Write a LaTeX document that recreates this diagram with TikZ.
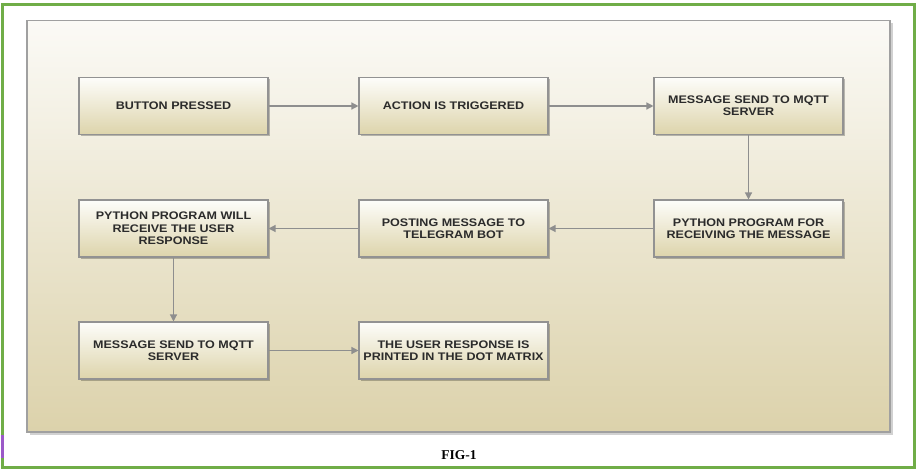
\documentclass[tikz,border=0pt]{standalone}
\usepackage{fontspec}
\newfontfamily\boxfont{Liberation Sans}[FakeStretch=1.14]
\newfontfamily\capfont{Liberation Serif}
\usetikzlibrary{arrows.meta,shadows}
\definecolor{framegreen}{HTML}{70AD47}
\definecolor{markpurple}{HTML}{9B59C8}
\definecolor{panelborder}{HTML}{A0A0A0}
\definecolor{boxborder}{HTML}{929292}
\definecolor{paneltop}{HTML}{FBFAF6}
\definecolor{panelbottom}{HTML}{DCD2AB}
\definecolor{boxtop}{HTML}{FDFDFA}
\definecolor{boxbottom}{HTML}{DDD4AB}
\definecolor{arrowgray}{HTML}{8E8E8E}
\definecolor{textgray}{HTML}{2B2B2B}
\tikzset{
  flowbox/.style={draw=boxborder, line width=1.1pt, top color=boxtop, bottom color=boxbottom,
    minimum width=189pt, minimum height=57pt, inner sep=0pt, align=center,
    text=textgray, font=\boxfont\bfseries\fontsize{11}{12.3}\selectfont,
    drop shadow={shadow xshift=1.5pt, shadow yshift=-1.5pt, opacity=0.25, fill=black}},
  flowarrow/.style={draw=arrowgray, line width=1.3pt, -{Triangle[length=7pt,width=7pt]}},
}
\begin{document}
\begin{tikzpicture}[x=1pt,y=-1pt]
\useasboundingbox (0,0) rectangle (916,472);
\fill[white] (0,0) rectangle (916,472);
% outer green frame
\draw[framegreen, line width=3pt] (2.5,4) rectangle (914,467.5);
\draw[markpurple, line width=2.2pt] (2.5,435) -- (2.5,458);
% panel
\fill[black, opacity=0.18] (29.5,22.5) rectangle (892.5,434.5);
\draw[panelborder, line width=1.2pt, top color=paneltop, bottom color=panelbottom] (27,20.5) rectangle (890,432);
% boxes
\node[flowbox] (b1) at (173.5,106) {BUTTON PRESSED};
\node[flowbox] (b2) at (453.5,106) {ACTION IS TRIGGERED};
\node[flowbox] (b3) at (748.5,106) {MESSAGE SEND TO MQTT\\SERVER};
\node[flowbox] (b4) at (173.5,228.5) {PYTHON PROGRAM WILL\\RECEIVE THE USER\\RESPONSE};
\node[flowbox] (b5) at (453.5,228.5) {POSTING MESSAGE TO\\TELEGRAM BOT};
\node[flowbox] (b6) at (748.5,228.5) {PYTHON PROGRAM FOR\\RECEIVING THE MESSAGE};
\node[flowbox] (b7) at (173.5,350.5) {MESSAGE SEND TO MQTT\\SERVER};
\node[flowbox] (b8) at (453.5,350.5) {THE USER RESPONSE IS\\PRINTED IN THE DOT MATRIX};
% connectors
\draw[flowarrow] (b1) -- (b2);
\draw[flowarrow] (b2) -- (b3);
\draw[flowarrow] (b3) -- (b6);
\draw[flowarrow] (b6) -- (b5);
\draw[flowarrow] (b5) -- (b4);
\draw[flowarrow] (b4) -- (b7);
\draw[flowarrow] (b7) -- (b8);
% caption
\node[font=\capfont\bfseries\fontsize{13.5}{15}\selectfont, text=black] (cap) at (459,455) {FIG-1};
\end{tikzpicture}
\end{document}
